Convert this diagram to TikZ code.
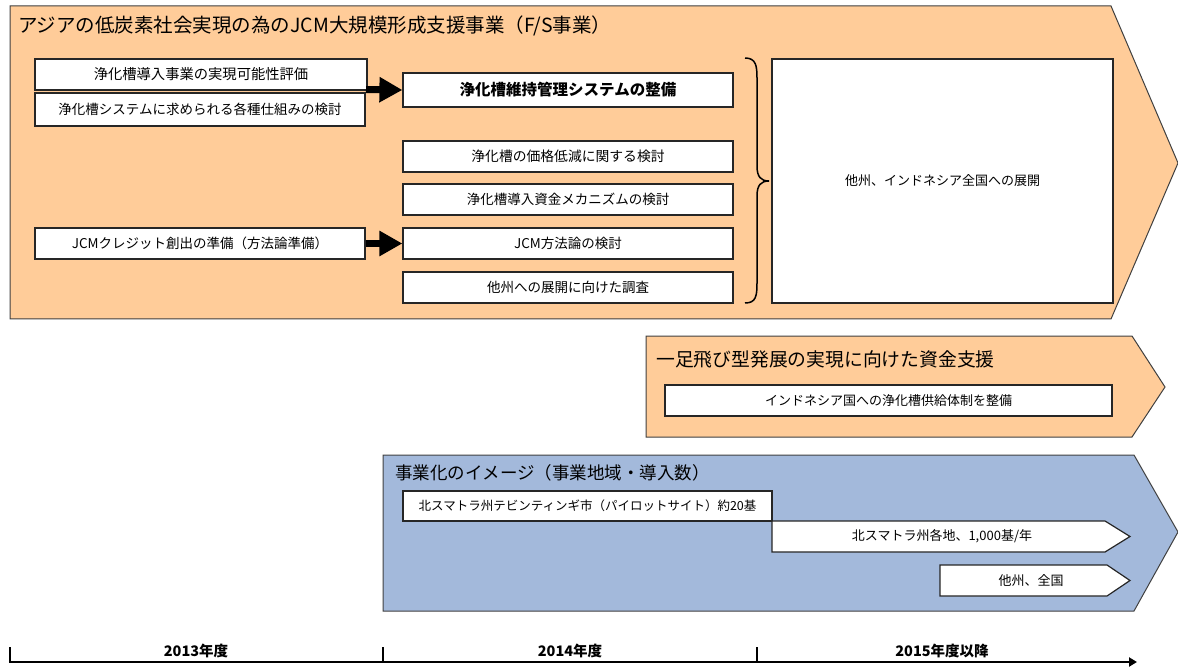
\documentclass[tikz,border=0pt]{standalone}
\usepackage{fontspec}
\setmainfont{Noto Sans CJK JP}
\usetikzlibrary{arrows.meta}
\definecolor{orangefill}{HTML}{FFCC99}
\definecolor{bluefill}{HTML}{A3B9DB}
\definecolor{edgegray}{HTML}{404040}
\newcommand{\fs}[1]{\fontsize{#1}{#1}\selectfont}
\begin{document}
\begin{tikzpicture}[x=1pt,y=-1pt,
  panel/.style={draw=edgegray,line width=1pt,line join=miter},
  wbox/.style={draw=black!85,line width=1.2pt,fill=white,inner sep=0pt,minimum width=330pt,minimum height=31pt,font=\fs{13.5}},
  arrowbox/.style={draw=black!85,line width=1.2pt,fill=white,line join=miter},
  title/.style={anchor=west,inner sep=0pt},
  fat/.style={line width=7pt,-{Triangle[length=23pt,width=24pt]}},
  tl/.style={line width=2.5pt},
  tlabel/.style={font=\bfseries\fs{14.5},inner sep=0pt}
]
\useasboundingbox (0,0) rectangle (1178,668);
% panel 1
\draw[panel,fill=orangefill] (10,6) -- (1111,6) -- (1178,163) -- (1111,319) -- (10,319) -- cycle;
\node[title,font=\fs{19.5}] (t1) at (18,26) {アジアの低炭素社会実現の為のJCM大規模形成支援事業（F/S事業）};
\node[wbox,minimum width=332pt,font=\fs{14.3}] (A) at (201,74.5) {浄化槽導入事業の実現可能性評価};
\node[wbox,minimum height=33pt] (B) at (200,109.5) {浄化槽システムに求められる各種仕組みの検討};
\node[wbox] (C) at (200,243.5) {JCMクレジット創出の準備（方法論準備）};
\node[wbox,minimum height=34pt,font=\bfseries\fs{15.5}] (M1) at (568,90) {浄化槽維持管理システムの整備};
\node[wbox,font=\fs{13.8}] (M2) at (568,156.5) {浄化槽の価格低減に関する検討};
\node[wbox] (M3) at (568,199.5) {浄化槽導入資金メカニズムの検討};
\node[wbox] (M4) at (568,243.5) {JCM方法論の検討};
\node[wbox] (M5) at (568,287.5) {他州への展開に向けた調査};
\node[wbox,minimum width=341pt,minimum height=244pt,font=\fs{13}] (W) at (942.5,181) {他州、インドネシア全国への展開};
\coordinate (ab) at (366,89.5);
\draw[fat] (ab) -- (M1.west);
\draw[fat] (C.east) -- (M4.west);
% brace
\draw[line width=1.5pt] (745,58) .. controls (756,58) and (757,66) .. (757,78) -- (757,166) .. controls (757,177) and (761,181) .. (769,181) .. controls (761,181) and (757,185) .. (757,196) -- (757,283) .. controls (757,296) and (756,303) .. (745,303);
% panel 2
\draw[panel,fill=orangefill] (646,336) -- (1132,336) -- (1165,387) -- (1132,437) -- (646,437) -- cycle;
\node[title,font=\fs{18.8}] (t2) at (656,359) {一足飛び型発展の実現に向けた資金支援};
\node[wbox,minimum width=447pt,font=\fs{13}] (S) at (888.5,400.5) {インドネシア国への浄化槽供給体制を整備};
% panel 3
\draw[panel,fill=bluefill] (383,455) -- (1134,455) -- (1178,532) -- (1134,611) -- (383,611) -- cycle;
\node[title,font=\fs{17.5}] (t3) at (395,473) {事業化のイメージ（事業地域・導入数）};
\node[wbox,minimum width=369pt,minimum height=30pt,font=\fs{12.5}] (P) at (587.5,506) {北スマトラ州テビンティンギ市（パイロットサイト）約20基};
\draw[arrowbox] (772,521) -- (1105,521) -- (1130,536.5) -- (1105,552) -- (772,552) -- cycle;
\node[font=\fs{13},inner sep=0pt] (E1) at (942,536.5) {北スマトラ州各地、1,000基/年};
\draw[arrowbox] (940,565) -- (1107,565) -- (1130,580.5) -- (1107,596) -- (940,596) -- cycle;
\node[font=\fs{13},inner sep=0pt] (E2) at (1031,580.5) {他州、全国};
% timeline
\coordinate (y0) at (10,662);
\coordinate (y1) at (383,662);
\coordinate (y2) at (757,662);
\coordinate (yend) at (1137,662);
\draw[tl,-{Triangle[length=8pt,width=9pt]}] (8.75,662) -- (yend);
\draw[tl] (y0) -- ++(0,-15);
\draw[tl] (y1) -- ++(0,-15);
\draw[tl] (y2) -- ++(0,-15);
\node[tlabel] (L1) at (196,651) {2013年度};
\node[tlabel] (L2) at (570,651) {2014年度};
\node[tlabel] (L3) at (942,651) {2015年度以降};
\end{tikzpicture}
\end{document}
